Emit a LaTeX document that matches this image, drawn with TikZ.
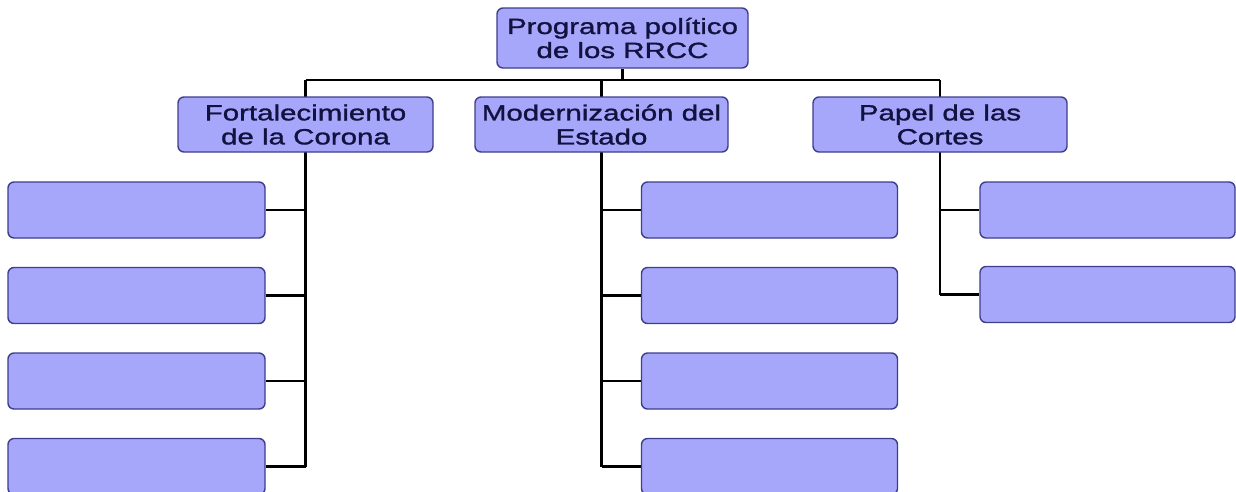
\documentclass[tikz,border=0pt]{standalone}
\usepackage{fontspec}
\newfontfamily\boxfont[FakeStretch=1.34,FakeBold=1.3]{Liberation Sans}
\usetikzlibrary{backgrounds}
\definecolor{boxfill}{RGB}{166,166,250}
\definecolor{boxline}{RGB}{62,62,140}
\definecolor{boxtext}{RGB}{18,18,64}
\tikzset{
  box/.style={draw=boxline, line width=1.4pt, fill=boxfill, rounded corners=6pt,
    inner sep=0pt, align=center, text=boxtext,
    font=\boxfont\fontsize{22}{24}\selectfont},
  conn/.style={draw=black, line width=2.8pt}
}
\begin{document}
\begin{tikzpicture}[x=1pt,y=-1pt]
\useasboundingbox (0,0) rectangle (1236,491);
\coordinate (bar) at (0,80);
% root
\node[box, minimum width=251pt, minimum height=60pt] (root) at (622.5,38) {Programa político\\de los RRCC};
% level 1
\node[box, minimum width=255pt, minimum height=55pt] (F) at (305.5,124.5) {Fortalecimiento\\de la Corona};
\node[box, minimum width=253pt, minimum height=55pt] (M) at (601.5,124.5) {Modernización del\\Estado};
\node[box, minimum width=254pt, minimum height=55pt] (P) at (940,124.5) {Papel de las\\Cortes};
% left children
\foreach \i/\y in {1/210,2/295.5,3/381,4/466.5}{
  \node[box, minimum width=257pt, minimum height=56pt] (L\i) at (136.5,\y) {};
}
% middle children
\foreach \i/\y in {1/210,2/295.5,3/381,4/466.5}{
  \node[box, minimum width=256pt, minimum height=56pt] (C\i) at (769.5,\y) {};
}
% right children
\foreach \i/\y in {1/210,2/294.5}{
  \node[box, minimum width=255pt, minimum height=56pt] (R\i) at (1107.5,\y) {};
}
\begin{scope}[on background layer]
  \draw[conn] (root.south) -- (root.south |- bar);
  \draw[conn] (F |- bar) -- (P |- bar);
  \draw[conn] (F |- bar) -- (F |- L4);
  \draw[conn] (M |- bar) -- (M |- C4);
  \draw[conn] (P |- bar) -- (P |- R2);
  \foreach \i in {1,2,3,4}{
    \draw[conn] (L\i.east) -- (F |- L\i);
    \draw[conn] (C\i.west) -- (M |- C\i);
  }
  \foreach \i in {1,2}{
    \draw[conn] (R\i.west) -- (P |- R\i);
  }
\end{scope}
\end{tikzpicture}
\end{document}
